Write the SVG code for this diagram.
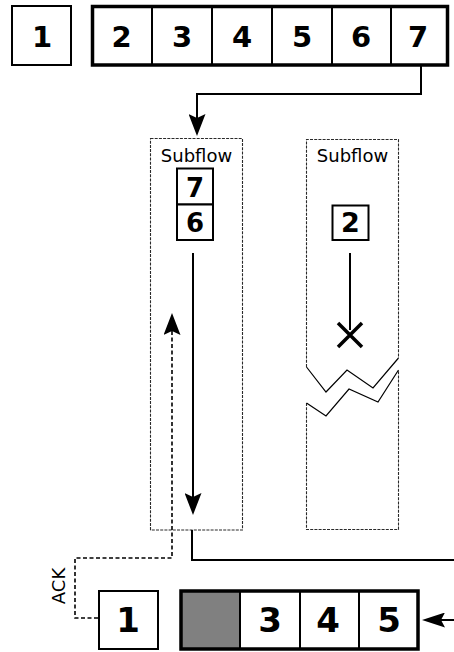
<svg xmlns="http://www.w3.org/2000/svg" width="454" height="652" viewBox="0 0 454 652">
<style>
.box{fill:#fff;stroke:#000;stroke-width:2}
.row{fill:none;stroke:#000;stroke-width:3.5}
.div{stroke:#000;stroke-width:2}
.num{font-family:"DejaVu Sans",sans-serif;font-weight:bold;text-anchor:middle;fill:#000}
.lbl{font-family:"DejaVu Sans",sans-serif;text-anchor:middle;fill:#000}
.sub{fill:none;stroke:#2a2a2a;stroke-width:1.1;stroke-dasharray:3,1.2}
.zig{fill:none;stroke:#000;stroke-width:1.2}
.conn{fill:none;stroke:#000;stroke-width:2}
.ack{fill:none;stroke:#000;stroke-width:1.6;stroke-dasharray:4,2.5}
.top{font-size:29px}
</style>
<defs>
<marker id="ah" markerUnits="userSpaceOnUse" markerWidth="22" markerHeight="17" viewBox="0 0 22 17" refX="19" refY="8.5" orient="auto">
<path d="M0,0 L22,8.5 L0,17 L4,8.5 Z" fill="#000"/>
</marker>
<marker id="ahs" markerUnits="userSpaceOnUse" markerWidth="23" markerHeight="15" viewBox="0 0 23 15" refX="20" refY="7.5" orient="auto">
<path d="M0,0 L23,7.5 L0,15 L4,7.5 Z" fill="#000"/>
</marker>
</defs>

<g id="top-packet-1">
<rect class="box" x="12" y="6" width="59" height="59"/>
<text class="num top" x="42" y="47">1</text>
</g>

<g id="top-queue">
<rect class="row" x="92.5" y="6.5" width="355" height="58.5"/>
<line class="div" x1="152" y1="6" x2="152" y2="65"/>
<line class="div" x1="212" y1="6" x2="212" y2="65"/>
<line class="div" x1="272" y1="6" x2="272" y2="65"/>
<line class="div" x1="332" y1="6" x2="332" y2="65"/>
<line class="div" x1="391" y1="6" x2="391" y2="65"/>
<text class="num top" x="121.5" y="47">2</text>
<text class="num top" x="182" y="47">3</text>
<text class="num top" x="242" y="47">4</text>
<text class="num top" x="302" y="47">5</text>
<text class="num top" x="361" y="47">6</text>
<text class="num top" x="418" y="47">7</text>
</g>

<g id="subflow-1">
<rect class="sub" x="150.5" y="138.5" width="92" height="391.5"/>
<text class="lbl" x="196.5" y="161.5" font-size="18">Subflow</text>
<rect class="box" x="177" y="168.5" width="36" height="36"/>
<rect class="box" x="177" y="204.5" width="36" height="35.5"/>
<text class="num" x="195" y="196.5" font-size="26">7</text>
<text class="num" x="195" y="232" font-size="26">6</text>
</g>

<g id="subflow-2">
<path class="sub" d="M306.5,367 V139.5 H398.5 V358"/>
<path class="sub" d="M306.5,403 V529.5 H398.5 V370"/>
<path class="zig" d="M306.5,367 L326,392 L347,370 L373,388 L398.5,358"/>
<path class="zig" d="M306.5,403 L326,416 L349,389 L378,402 L398.5,370"/>
<text class="lbl" x="352.5" y="161.5" font-size="18">Subflow</text>
<rect class="box" x="332.5" y="205.5" width="36" height="34.5"/>
<text class="num" x="350.5" y="232" font-size="27">2</text>
</g>

<g id="lost-marker">
<line x1="350" y1="253" x2="350" y2="330" stroke="#000" stroke-width="2"/>
<path d="M338,323 L362,347 M362,323 L338,347" stroke="#000" stroke-width="3.5" fill="none"/>
</g>

<g id="bottom-packet-1">
<rect class="box" x="99" y="591" width="59" height="58"/>
<text class="num" x="128" y="632" font-size="34">1</text>
</g>

<g id="bottom-queue">
<rect x="181" y="591" width="59" height="58" fill="#808080"/>
<rect class="row" x="181" y="591" width="237" height="58"/>
<line class="div" x1="240" y1="591" x2="240" y2="649"/>
<line class="div" x1="300" y1="591" x2="300" y2="649"/>
<line class="div" x1="359" y1="591" x2="359" y2="649"/>
<text class="num" x="270" y="632" font-size="34">3</text>
<text class="num" x="328" y="632" font-size="34">4</text>
<text class="num" x="389" y="632" font-size="34">5</text>
</g>

<g id="connectors">
<path class="conn" d="M421,66 V94 H197 V133" marker-end="url(#ah)"/>
<path class="conn" d="M193,253 V512" marker-end="url(#ah)"/>
<path class="ack" d="M98,618 H75 V558 H172 V316" marker-end="url(#ah)"/>
<path class="conn" d="M192,530 V560 H454"/>
<path class="conn" d="M454,620 H425" marker-end="url(#ahs)"/>
<text class="lbl" font-size="18" transform="translate(65,586) rotate(-90)">ACK</text>
</g>
</svg>
